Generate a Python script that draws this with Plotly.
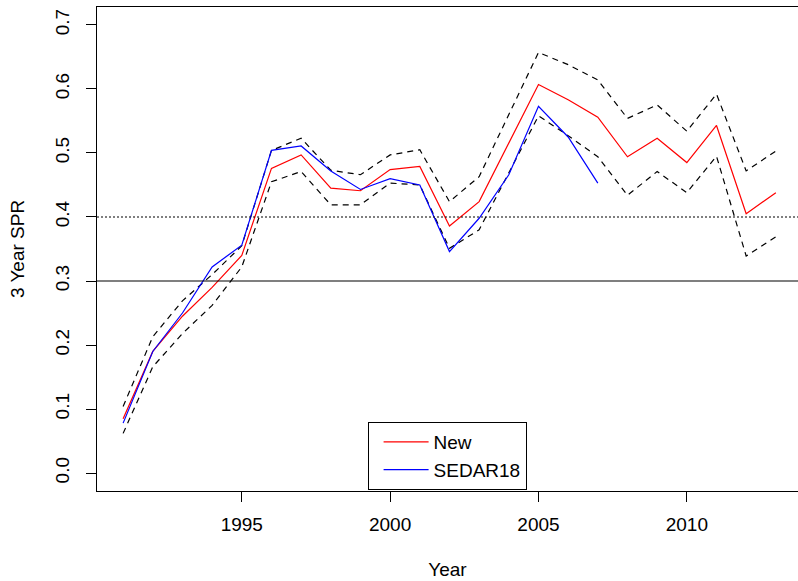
import plotly.graph_objects as go

# Annual 3-year SPR estimates
years = list(range(1991, 2014))
spr_new = [0.085, 0.19, 0.245, 0.29, 0.34, 0.476, 0.497, 0.445, 0.441, 0.474, 0.479, 0.386,
           0.424, 0.516, 0.607, 0.583, 0.556, 0.494, 0.523, 0.485, 0.543, 0.405, 0.438]
spr_upper = [0.104, 0.213, 0.269, 0.31, 0.355, 0.504, 0.523, 0.473, 0.466, 0.497, 0.505, 0.424,
             0.463, 0.56, 0.657, 0.638, 0.614, 0.554, 0.575, 0.534, 0.592, 0.472, 0.503]
spr_lower = [0.062, 0.166, 0.218, 0.262, 0.322, 0.455, 0.471, 0.419, 0.419, 0.453, 0.45, 0.351,
             0.38, 0.469, 0.558, 0.527, 0.494, 0.434, 0.471, 0.438, 0.495, 0.339, 0.369]
sedar_years = list(range(1991, 2008))
spr_sedar18 = [0.078, 0.19, 0.25, 0.322, 0.356, 0.504, 0.511, 0.472, 0.443, 0.46, 0.45, 0.346,
               0.398, 0.466, 0.573, 0.525, 0.453]

# Reference levels
spr_target = 0.4
spr_threshold = 0.3

x_ticks = [1995, 2000, 2005, 2010]
y_ticks = [0.0, 0.1, 0.2, 0.3, 0.4, 0.5, 0.6, 0.7]
y_ticklabels = ["0.0", "0.1", "0.2", "0.3", "0.4", "0.5", "0.6", "0.7"]

FONT = "Liberation Sans, Arial, sans-serif"

fig = go.Figure()

dash_style = dict(color="black", width=1.2, dash="6px,5px")
fig.add_trace(go.Scatter(x=years, y=spr_upper, mode="lines", line=dash_style,
                         showlegend=False, hoverinfo="skip"))
fig.add_trace(go.Scatter(x=years, y=spr_lower, mode="lines", line=dash_style,
                         showlegend=False, hoverinfo="skip"))
fig.add_trace(go.Scatter(x=years, y=spr_new, mode="lines", name="New",
                         line=dict(color="#FF0000", width=1.2)))
fig.add_trace(go.Scatter(x=sedar_years, y=spr_sedar18, mode="lines", name="SEDAR18",
                         line=dict(color="#0000FF", width=1.2)))

fig.add_hline(y=spr_target, line=dict(color="black", width=1.2, dash="2px,2px"))
fig.add_hline(y=spr_threshold, line=dict(color="black", width=1.2))

fig.update_layout(
    width=798, height=581,
    margin=dict(l=97, r=0, t=7, b=90),
    paper_bgcolor="white", plot_bgcolor="white",
    font=dict(family=FONT, size=19, color="black"),
    legend=dict(x=0.386, y=0.1426, xanchor="left", yanchor="top",
                bordercolor="black", borderwidth=1, bgcolor="white",
                font=dict(size=19), tracegroupgap=0,
                indentation=10, itemwidth=45),
    xaxis=dict(range=[1990.12, 2013.747], tickvals=x_ticks,
               ticks="outside", ticklen=10, tickcolor="black", tickwidth=1,
               ticklabelstandoff=6, tickfont=dict(size=19),
               showline=True, linecolor="black", linewidth=1, mirror=True,
               showgrid=False, zeroline=False,
               title=dict(text="Year", standoff=28, font=dict(size=19))),
    yaxis=dict(range=[-0.028, 0.728], tickvals=y_ticks, ticktext=y_ticklabels,
               tickangle=-90, ticklabelstandoff=9, tickfont=dict(size=19),
               ticks="outside", ticklen=10, tickcolor="black", tickwidth=1,
               showline=True, linecolor="black", linewidth=1, mirror=True,
               showgrid=False, zeroline=False,
               title=dict(text="3 Year SPR", standoff=22, font=dict(size=19))),
)

fig.write_html("out.html")
